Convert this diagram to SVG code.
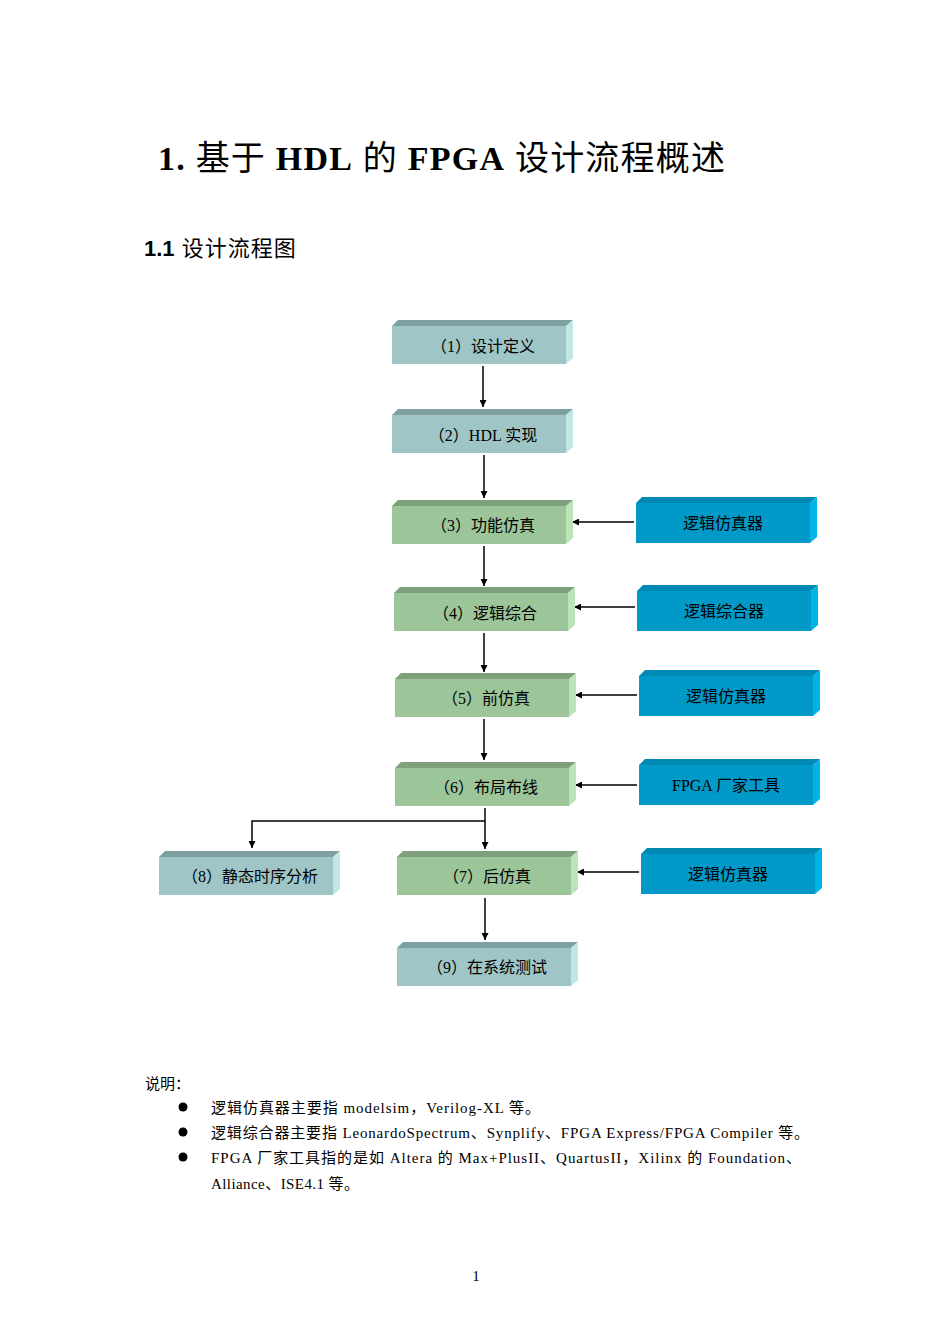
<svg xmlns="http://www.w3.org/2000/svg" width="950" height="1344" viewBox="0 0 950 1344">
<defs>
<style>
.t{font-family:"Liberation Serif","Noto Sans CJK SC",serif;font-size:16px;fill:#000;text-anchor:middle}
.b{font-family:"Liberation Serif","Noto Sans CJK SC",serif;font-size:15px;fill:#000}
.ln{stroke:#000;stroke-width:1.5;fill:none}
.tf{fill:#9fc5c6}.tt{fill:#7fa0a0}.ts{fill:#c0e6e6}
.gf{fill:#9dc59a}.gt{fill:#7ea07b}.gs{fill:#bde3b8}
.bf{fill:#0099c8}.bt{fill:#0089b3}.bs{fill:#00b4e8}
</style>
<marker id="a" viewBox="0 0 10 10" refX="10" refY="5" markerWidth="7" markerHeight="7" orient="auto" markerUnits="userSpaceOnUse"><path d="M0,0L10,5L0,10z" fill="#000"/></marker>
</defs>
<rect width="950" height="1344" fill="#fff"/>
<text x="158" y="170" font-family="Liberation Serif,Noto Sans CJK SC,serif" font-size="34" font-weight="bold" textLength="567" lengthAdjust="spacing">1.<tspan font-weight="normal">  基于 </tspan>HDL<tspan font-weight="normal"> 的 </tspan>FPGA<tspan font-weight="normal"> 设计流程概述</tspan></text>
<text x="144" y="256" font-family="Liberation Sans,Noto Sans CJK SC,sans-serif" font-size="22" font-weight="bold">1.1<tspan font-weight="normal" letter-spacing="1">  设计流程图</tspan></text>

<g id="connectors">
<line class="ln" x1="483" y1="366" x2="483" y2="407" marker-end="url(#a)"/>
<line class="ln" x1="484" y1="455" x2="484" y2="498" marker-end="url(#a)"/>
<line class="ln" x1="484" y1="546" x2="484" y2="586" marker-end="url(#a)"/>
<line class="ln" x1="484" y1="633" x2="484" y2="672" marker-end="url(#a)"/>
<line class="ln" x1="484" y1="719" x2="484" y2="760" marker-end="url(#a)"/>
<line class="ln" x1="485" y1="808" x2="485" y2="849" marker-end="url(#a)"/>
<polyline class="ln" points="485,821 252,821 252,848" marker-end="url(#a)"/>
<line class="ln" x1="485" y1="898" x2="485" y2="940" marker-end="url(#a)"/>
<line class="ln" x1="634" y1="522" x2="572" y2="522" marker-end="url(#a)"/>
<line class="ln" x1="635" y1="607" x2="574" y2="607" marker-end="url(#a)"/>
<line class="ln" x1="637" y1="695" x2="575" y2="695" marker-end="url(#a)"/>
<line class="ln" x1="637" y1="785" x2="575" y2="785" marker-end="url(#a)"/>
<line class="ln" x1="639" y1="872" x2="577" y2="872" marker-end="url(#a)"/>
</g>

<g id="n1"><polygon class="tt" points="392,326 398,320 573,320 566,326"/><polygon class="ts" points="566,326 573,320 573,358 566,364"/><rect class="tf" x="392" y="326" width="174" height="38"/><text class="t" x="483" y="352">（1）设计定义</text></g>
<g id="n2"><polygon class="tt" points="392,415 398,409 573,409 566,415"/><polygon class="ts" points="566,415 573,409 573,447 566,453"/><rect class="tf" x="392" y="415" width="174" height="38"/><text class="t" x="483" y="441">（2）HDL 实现</text></g>
<g id="n3"><polygon class="gt" points="392,506 398,500 573,500 566,506"/><polygon class="gs" points="566,506 573,500 573,538 566,544"/><rect class="gf" x="392" y="506" width="174" height="38"/><text class="t" x="483" y="531">（3）功能仿真</text></g>
<g id="n4"><polygon class="gt" points="394,593 400,587 575,587 568,593"/><polygon class="gs" points="568,593 575,587 575,625 568,631"/><rect class="gf" x="394" y="593" width="174" height="38"/><text class="t" x="485" y="619">（4）逻辑综合</text></g>
<g id="n5"><polygon class="gt" points="395,679 401,673 576,673 569,679"/><polygon class="gs" points="569,679 576,673 576,711 569,717"/><rect class="gf" x="395" y="679" width="174" height="38"/><text class="t" x="486" y="704">（5）前仿真</text></g>
<g id="n6"><polygon class="gt" points="395,768 401,762 576,762 569,768"/><polygon class="gs" points="569,768 576,762 576,800 569,806"/><rect class="gf" x="395" y="768" width="174" height="38"/><text class="t" x="486" y="793">（6）布局布线</text></g>
<g id="n7"><polygon class="gt" points="397,857 403,851 578,851 571,857"/><polygon class="gs" points="571,857 578,851 578,889 571,895"/><rect class="gf" x="397" y="857" width="174" height="38"/><text class="t" x="487" y="882">（7）后仿真</text></g>
<g id="n8"><polygon class="tt" points="159,857 165,851 340,851 333,857"/><polygon class="ts" points="333,857 340,851 340,889 333,895"/><rect class="tf" x="159" y="857" width="174" height="38"/><text class="t" x="250" y="882">（8）静态时序分析</text></g>
<g id="n9"><polygon class="tt" points="397,948 403,942 578,942 571,948"/><polygon class="ts" points="571,948 578,942 578,980 571,986"/><rect class="tf" x="397" y="948" width="174" height="38"/><text class="t" x="487" y="973">（9）在系统测试</text></g>

<g id="s1"><polygon class="bt" points="636,503 642,497 817,497 810,503"/><polygon class="bs" points="810,503 817,497 817,537 810,543"/><rect class="bf" x="636" y="503" width="174" height="40"/><text class="t" x="723" y="529">逻辑仿真器</text></g>
<g id="s2"><polygon class="bt" points="637,591 643,585 818,585 811,591"/><polygon class="bs" points="811,591 818,585 818,625 811,631"/><rect class="bf" x="637" y="591" width="174" height="40"/><text class="t" x="724" y="617">逻辑综合器</text></g>
<g id="s3"><polygon class="bt" points="639,676 645,670 820,670 813,676"/><polygon class="bs" points="813,676 820,670 820,710 813,716"/><rect class="bf" x="639" y="676" width="174" height="40"/><text class="t" x="726" y="702">逻辑仿真器</text></g>
<g id="s4"><polygon class="bt" points="639,765 645,759 820,759 813,765"/><polygon class="bs" points="813,765 820,759 820,799 813,805"/><rect class="bf" x="639" y="765" width="174" height="40"/><text class="t" x="726" y="791">FPGA 厂家工具</text></g>
<g id="s5"><polygon class="bt" points="641,854 647,848 822,848 815,854"/><polygon class="bs" points="815,854 822,848 822,888 815,894"/><rect class="bf" x="641" y="854" width="174" height="40"/><text class="t" x="728" y="880">逻辑仿真器</text></g>

<text class="b" x="145" y="1089">说明：</text>
<circle cx="183" cy="1107" r="4.5"/><circle cx="183" cy="1132" r="4.5"/><circle cx="183" cy="1157" r="4.5"/>
<text class="b" x="211" y="1113" textLength="329" lengthAdjust="spacing">逻辑仿真器主要指 modelsim，Verilog-XL 等。</text>
<text class="b" x="211" y="1138" textLength="598" lengthAdjust="spacing">逻辑综合器主要指 LeonardoSpectrum、Synplify、FPGA Express/FPGA Compiler 等。</text>
<text class="b" x="211" y="1163" textLength="590" lengthAdjust="spacing">FPGA 厂家工具指的是如 Altera 的 Max+PlusII、QuartusII，Xilinx 的 Foundation、</text>
<text class="b" x="211" y="1189" textLength="148" lengthAdjust="spacing">Alliance、ISE4.1 等。</text>
<text class="b" x="476" y="1281" font-size="12" text-anchor="middle">1</text>
</svg>
